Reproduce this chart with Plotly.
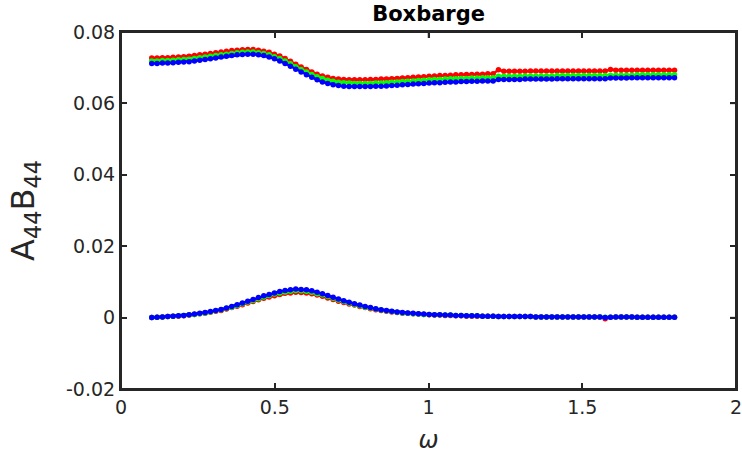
import numpy as np
import plotly.graph_objects as go

# omega grid (99 equally spaced samples from 0.1 to 1.8)
omega = np.linspace(0.1, 1.8, 99)

# Added-mass A44 curves (units 1e-4)
A_red = [727,727,728,728,729,730,731,732,734,736,
         738,740,742,744,746,748,749,750,751,751,
         749,746,743,738,733,726,718,710,702,695,
         688,682,677,673,670,668,667,666,666,666,
         666,667,667,668,668,669,670,671,672,673,
         674,675,676,677,678,678,679,680,680,681,
         681,682,682,683,683,
         694,
         690,690,690,690,690,691,691,691,691,691,691,691,691,691,691,691,691,691,691,691,
         695,
         693,693,693,693,693,693,693,693,693,693,693,693]
A_green = [719,719,720,720,721,722,723,724,726,728,
           730,732,734,736,738,740,742,743,744,744,
           742,740,736,731,726,719,711,703,695,688,
           681,675,670,665,662,659,658,657,656,656,
           656,656,657,657,658,659,660,661,662,663,
           664,665,666,667,667,668,669,669,670,670,
           671,671,672,672,672,
           676,
           676,676,676,676,677,677,677,677,677,677,678,678,678,678,678,678,678,678,678,678,
           679,
           679,679,679,679,680,680,680,680,680,680,680,680]
A_blue = [712,712,713,713,714,715,716,717,719,721,
          723,725,727,730,732,734,736,737,738,738,
          736,734,730,725,719,712,704,696,688,680,
          673,666,660,656,652,650,648,647,647,647,
          647,647,648,648,649,650,651,652,653,654,
          655,656,657,658,658,659,660,660,661,661,
          662,662,663,663,663,
          667,
          667,667,667,667,668,668,668,668,668,668,669,669,669,669,669,669,669,669,669,669,
          671,
          671,671,671,672,672,672,672,672,672,672,672,672]

# Damping B44 curves (units 1e-4)
B_red = [0,1,2,3,4,4,5,7,9,11,
         12,15,18,20,24,28,32,36,41,45,
         50,54,58,61,65,68,69,71,70,69,
         67,63,60,55,51,46,42,38,35,31,
         28,25,22,20,18,16,14,12,12,11,
         10,9,8,7,7,6,6,5,5,4,
         4,4,4,4,4,
         3,
         3,3,3,3,3,3,2,2,2,2,2,2,2,2,2,2,2,2,2,-3,
         1,2,2,2,2,1,1,1,1,1,1,1,1]
B_green = [0,1,2,3,4,5,6,8,9,11,
           13,16,19,22,26,29,34,39,44,48,
           53,58,62,66,69,72,74,76,75,74,
           71,67,64,59,54,49,45,41,37,33,
           29,27,24,21,19,17,15,13,12,11,
           10,9,9,8,8,7,7,6,6,5,
           5,5,4,4,4,
           3,
           3,3,3,3,3,3,2,2,2,2,2,2,2,2,2,2,2,2,2,1,
           1,2,2,2,2,1,1,1,1,1,1,1,1]
B_blue = [0,1,2,3,4,5,6,8,10,12,
          14,17,20,23,27,31,36,41,46,51,
          56,61,65,69,73,76,78,80,79,78,
          75,71,67,62,57,52,47,43,39,35,
          31,28,25,22,20,18,16,14,13,12,
          11,10,9,8,8,7,7,6,6,5,
          5,5,4,4,4,
          3,
          3,3,3,3,3,3,2,2,2,2,2,2,2,2,2,2,2,2,2,0,
          1,2,2,2,2,1,1,1,1,1,1,1,1]

x_ticks = [0, 0.5, 1, 1.5, 2]
x_tick_labels = ["0", "0.5", "1", "1.5", "2"]
y_ticks = [-0.02, 0, 0.02, 0.04, 0.06, 0.08]
y_tick_labels = ["-0.02", "0", "0.02", "0.04", "0.06", "0.08"]
x_range = [0, 2]
y_range = [-0.02, 0.08]

colors = {"red": "#ff0000", "green": "#00ff00", "blue": "#0000ff"}
axis_color = "#262626"
font_family = "DejaVu Sans"

fig = go.Figure()

def add(vals, scale, color):
    fig.add_trace(go.Scatter(
        x=omega, y=np.array(vals) * scale, mode="lines+markers",
        line=dict(color=color, width=2.5),
        marker=dict(color=color, size=5.5, symbol="circle", line=dict(width=0)),
        showlegend=False, hoverinfo="skip", cliponaxis=False))

for vals, c in [(A_red, "red"), (A_green, "green"), (A_blue, "blue")]:
    add(vals, 1e-4, colors[c])
for vals, c in [(B_red, "red"), (B_green, "green"), (B_blue, "blue")]:
    add(vals, 1e-4, colors[c])

common = dict(showgrid=False, zeroline=False, automargin=False,
              showline=True, linecolor=axis_color, linewidth=2, mirror="ticks",
              ticks="inside", ticklen=6, tickwidth=1.5, tickcolor=axis_color,
              ticklabeloverflow="allow")

fig.update_layout(
    width=742, height=461,
    margin=dict(l=121, r=6, t=32, b=72, autoexpand=False),
    paper_bgcolor="white", plot_bgcolor="white",
    font=dict(family=font_family, color=axis_color, size=19),
    title=dict(text="<b>Boxbarge</b>", x=0.5776, xanchor="center",
               y=0.970, yanchor="middle",
               font=dict(family=font_family, size=21, color="#000000")),
    xaxis=dict(range=x_range, tickvals=x_ticks, ticktext=x_tick_labels,
               tickfont=dict(size=19, color=axis_color),
               title=dict(text="<i>ω</i>", font=dict(size=24, color=axis_color), standoff=14),
               **common),
    yaxis=dict(range=y_range, tickvals=y_ticks, ticktext=y_tick_labels,
               tickfont=dict(size=19, color=axis_color),
               title=dict(text="A<sub>44</sub>B<sub>44</sub>",
                          font=dict(size=32, color=axis_color), standoff=22),
               **common),
)

# Closed box frame (MATLAB "box on"), drawn in paper coordinates on top of the plot
fig.add_shape(type="rect", xref="paper", yref="paper", x0=0, x1=1, y0=0, y1=1,
              line=dict(color=axis_color, width=2), fillcolor="rgba(0,0,0,0)",
              layer="above")
# Inward ticks on the top and right edges, positioned from the tick arrays
plot_h = 461 - 32 - 72
plot_w = 742 - 121 - 6
for xv in x_ticks:
    fig.add_shape(type="line", xref="x", yref="paper", x0=xv, x1=xv,
                  y0=1, y1=1 - 6 / plot_h, line=dict(color=axis_color, width=1.5),
                  layer="above")
for yv in y_ticks:
    fig.add_shape(type="line", xref="paper", yref="y", x0=1, x1=1 - 6 / plot_w,
                  y0=yv, y1=yv, line=dict(color=axis_color, width=1.5),
                  layer="above")

fig.write_html("out.html",
               config={"displayModeBar": False},
               post_script="document.body.style.margin='0';document.body.style.padding='0';")
